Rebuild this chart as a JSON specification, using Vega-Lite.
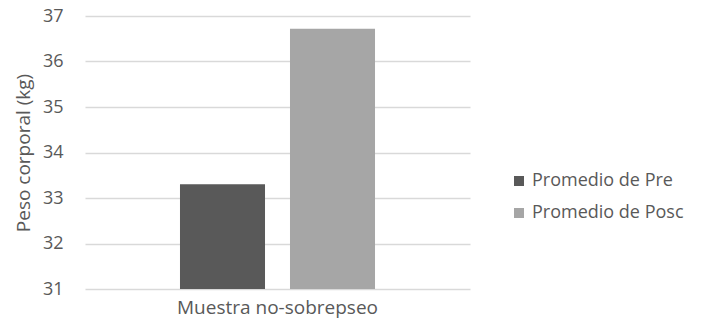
{
  "$schema": "https://vega.github.io/schema/vega-lite/v6.json",
  "autosize": {"type": "none"},
  "width": 385,
  "height": 273,
  "padding": {"left": 85, "top": 16, "right": 236, "bottom": 33},
  "background": "white",
  "data": {"values": [
    {"grupo": "Muestra no-sobrepseo", "serie": "Promedio de Pre", "peso": 33.3},
    {"grupo": "Muestra no-sobrepseo", "serie": "Promedio de Posc", "peso": 36.72}
  ]},
  "mark": {"type": "bar", "clip": true},
  "encoding": {
    "x": {"field": "grupo", "type": "nominal", "title": null,
      "scale": {"paddingInner": 0, "paddingOuter": 0.487},
      "axis": {"labelAngle": 0, "ticks": false, "domain": false, "labelPadding": 9, "labelLimit": 400, "labelFontSize": 19, "labelColor": "#595959", "labelFont": "Open Sans"}},
    "xOffset": {"field": "serie", "type": "nominal", "sort": ["Promedio de Pre", "Promedio de Posc"],
      "scale": {"paddingInner": 0.227, "paddingOuter": 0}},
    "y": {"field": "peso", "type": "quantitative", "title": "Peso corporal (kg)",
      "scale": {"domain": [31, 37], "zero": false, "nice": false},
      "axis": {"values": [31, 32, 33, 34, 35, 36, 37], "ticks": false, "domain": false, "labelPadding": 22,
        "labelFontSize": 18, "labelColor": "#595959", "labelFont": "Open Sans",
        "gridColor": "#d9d9d9", "gridWidth": 1.5,
        "titleFontSize": 19, "titleFontWeight": "normal", "titleColor": "#595959", "titleFont": "Open Sans", "titlePadding": 9}},
    "color": {"field": "serie", "type": "nominal", "sort": ["Promedio de Pre", "Promedio de Posc"],
      "scale": {"domain": ["Promedio de Pre", "Promedio de Posc"], "range": ["#595959", "#a6a6a6"]},
      "legend": {"title": null, "orient": "none", "legendX": 425, "legendY": 156, "symbolType": "square", "symbolSize": 100,
        "symbolStrokeWidth": 0, "labelFontSize": 18, "labelColor": "#595959", "labelFont": "Open Sans", "rowPadding": 14, "labelOffset": 4, "labelLimit": 300}}
  },
  "config": {"view": {"stroke": null}}
}
